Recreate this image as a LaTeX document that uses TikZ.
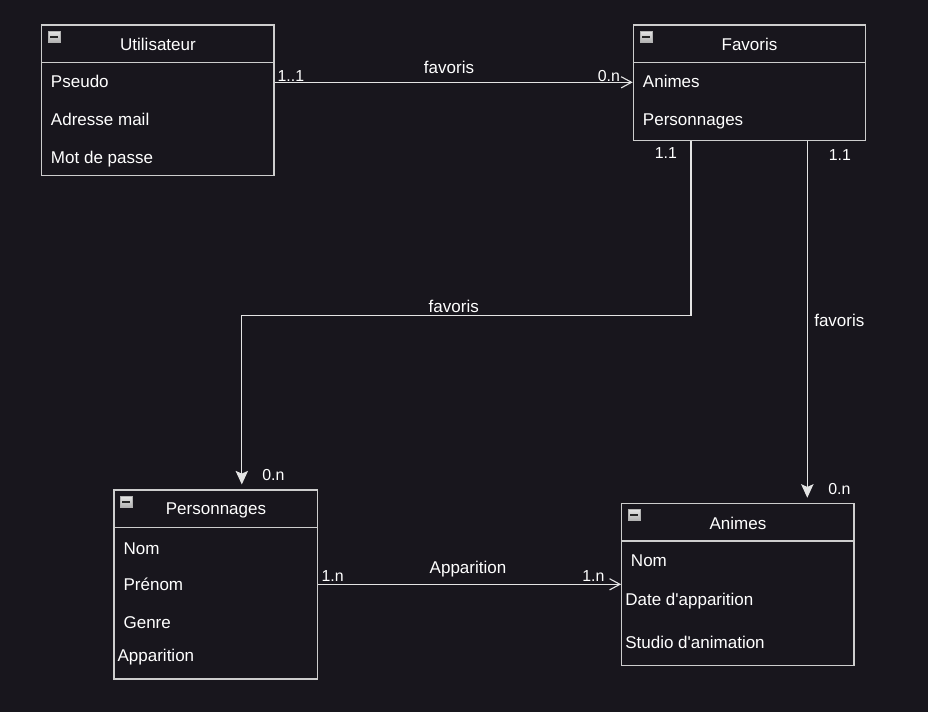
\documentclass[tikz,border=0pt]{standalone}
\usepackage{fontspec}
\setmainfont{Liberation Sans}
\usetikzlibrary{arrows.meta,fit}

\definecolor{bgdark}{RGB}{24,22,29}
\definecolor{boxline}{RGB}{205,205,205}
\definecolor{linkline}{RGB}{228,228,228}

\begin{document}
\begin{tikzpicture}[x=0.025cm,y=-0.025cm,
    entity/.style={draw=boxline, line width=0.8pt, inner sep=0pt},
    title/.style={anchor=base, inner sep=0pt, text=white, font=\fontsize{12.1pt}{14pt}\selectfont},
    attr/.style={anchor=base west, inner sep=0pt, text=white, font=\fontsize{12.1pt}{14pt}\selectfont},
    card/.style={anchor=base west, inner sep=0pt, text=white, font=\fontsize{11.3pt}{13pt}\selectfont},
    link/.style={draw=linkline, line width=0.8pt},
    openhead/.style={-{Straight Barb[length=0.26cm,width=0.28cm]}},
    fullhead/.style={-{Stealth[length=0.34cm,width=0.31cm,inset=0.07cm]}, shorten >=0.125cm},
    icon/.style={draw=gray!60, top color=gray!20, bottom color=gray!60, line width=0.4pt}]
        \fill[bgdark] (0,0) rectangle (928,712);
        \useasboundingbox (0,0) rectangle (928,712);

        % entities
        \node[entity, fit={(41.7,25) (274,175.7)}] (utilisateur) {};
        \node[entity, fit={(633.3,25) (865.7,140.7)}] (favoris) {};
        \node[entity, fit={(114,490) (317.7,679)}] (personnages) {};
        \node[entity, fit={(621.7,503.3) (854,665.7)}] (animes) {};

        \draw[entity] (utilisateur.west |- 0,62.3) -- (utilisateur.east |- 0,62.3);
        \draw[entity] (favoris.west |- 0,62.7) -- (favoris.east |- 0,62.7);
        \draw[entity] (personnages.west |- 0,527.7) -- (personnages.east |- 0,527.7);
        \draw[entity] (animes.west |- 0,541) -- (animes.east |- 0,541);

        \foreach \ix/\iy in {48/31, 640/31, 120/496, 628/509} {
            \draw[icon] (\ix,\iy) rectangle ++(12,11);
            \fill[black!85] (\ix+2,\iy+4.5) rectangle ++(8,2);
        }

        % titles and attributes
        \node[title] (utilisateur-t) at (158,50) {Utilisateur};
        \node[attr] (pseudo) at (50.7,87.7) {Pseudo};
        \node[attr] (mail) at (50.7,125.7) {Adresse mail};
        \node[attr] (passe) at (50.7,163.3) {Mot de passe};

        \node[title] (favoris-t) at (749.5,50) {Favoris};
        \node[attr] (fav-animes) at (642.7,87.7) {Animes};
        \node[attr] (fav-perso) at (642.7,125.7) {Personnages};

        \node[title] (personnages-t) at (216,514) {Personnages};
        \node[attr] (perso-nom) at (123.3,554) {Nom};
        \node[attr] (perso-prenom) at (123.3,590.7) {Prénom};
        \node[attr] (perso-genre) at (123.3,628.3) {Genre};
        \node[attr] (perso-app) at (117.3,661.7) {Apparition};

        \node[title] (animes-t) at (738,529) {Animes};
        \node[attr] (anime-nom) at (630.7,566.7) {Nom};
        \node[attr] (anime-date) at (625,605.7) {Date d\textquotesingle apparition};
        \node[attr] (anime-studio) at (625,648.3) {Studio d\textquotesingle animation};

        % relations
        \coordinate (bend-a) at (691,315.6);
        \coordinate (bend-b) at (241.8,315.6);
        \coordinate (drop-c) at (807.3,315.6);

        \draw[link, openhead] (utilisateur.east |- 0,82.3) -- (favoris.west |- 0,82.3);
        \draw[link, fullhead] (favoris.south -| bend-a) -- (bend-a) -- (bend-b) -- (personnages.north -| bend-b);
        \draw[link, fullhead] (favoris.south -| drop-c) -- (animes.north -| drop-c);
        \draw[link, openhead] (personnages.east |- 0,584.3) -- (animes.west |- 0,584.3);

        \node[title] (rel-fav1) at (449,73.3) {favoris};
        \node[title] (rel-fav2) at (453.8,312.3) {favoris};
        \node[attr] (rel-fav3) at (814,326.7) {favoris};
        \node[title] (rel-app) at (468,573.3) {Apparition};

        % cardinalities
        \node[card] (c-util) at (277.3,81.5) {1..1};
        \node[card] (c-fav1) at (597.5,81.5) {0.n};
        \node[card] (c-fav2) at (654.5,158) {1.1};
        \node[card] (c-fav3) at (828.5,160.3) {1.1};
        \node[card] (c-perso1) at (262,480) {0.n};
        \node[card] (c-anime1) at (828,494) {0.n};
        \node[card] (c-perso2) at (321.3,581) {1.n};
        \node[card] (c-anime2) at (582,581) {1.n};
\end{tikzpicture}
\end{document}
